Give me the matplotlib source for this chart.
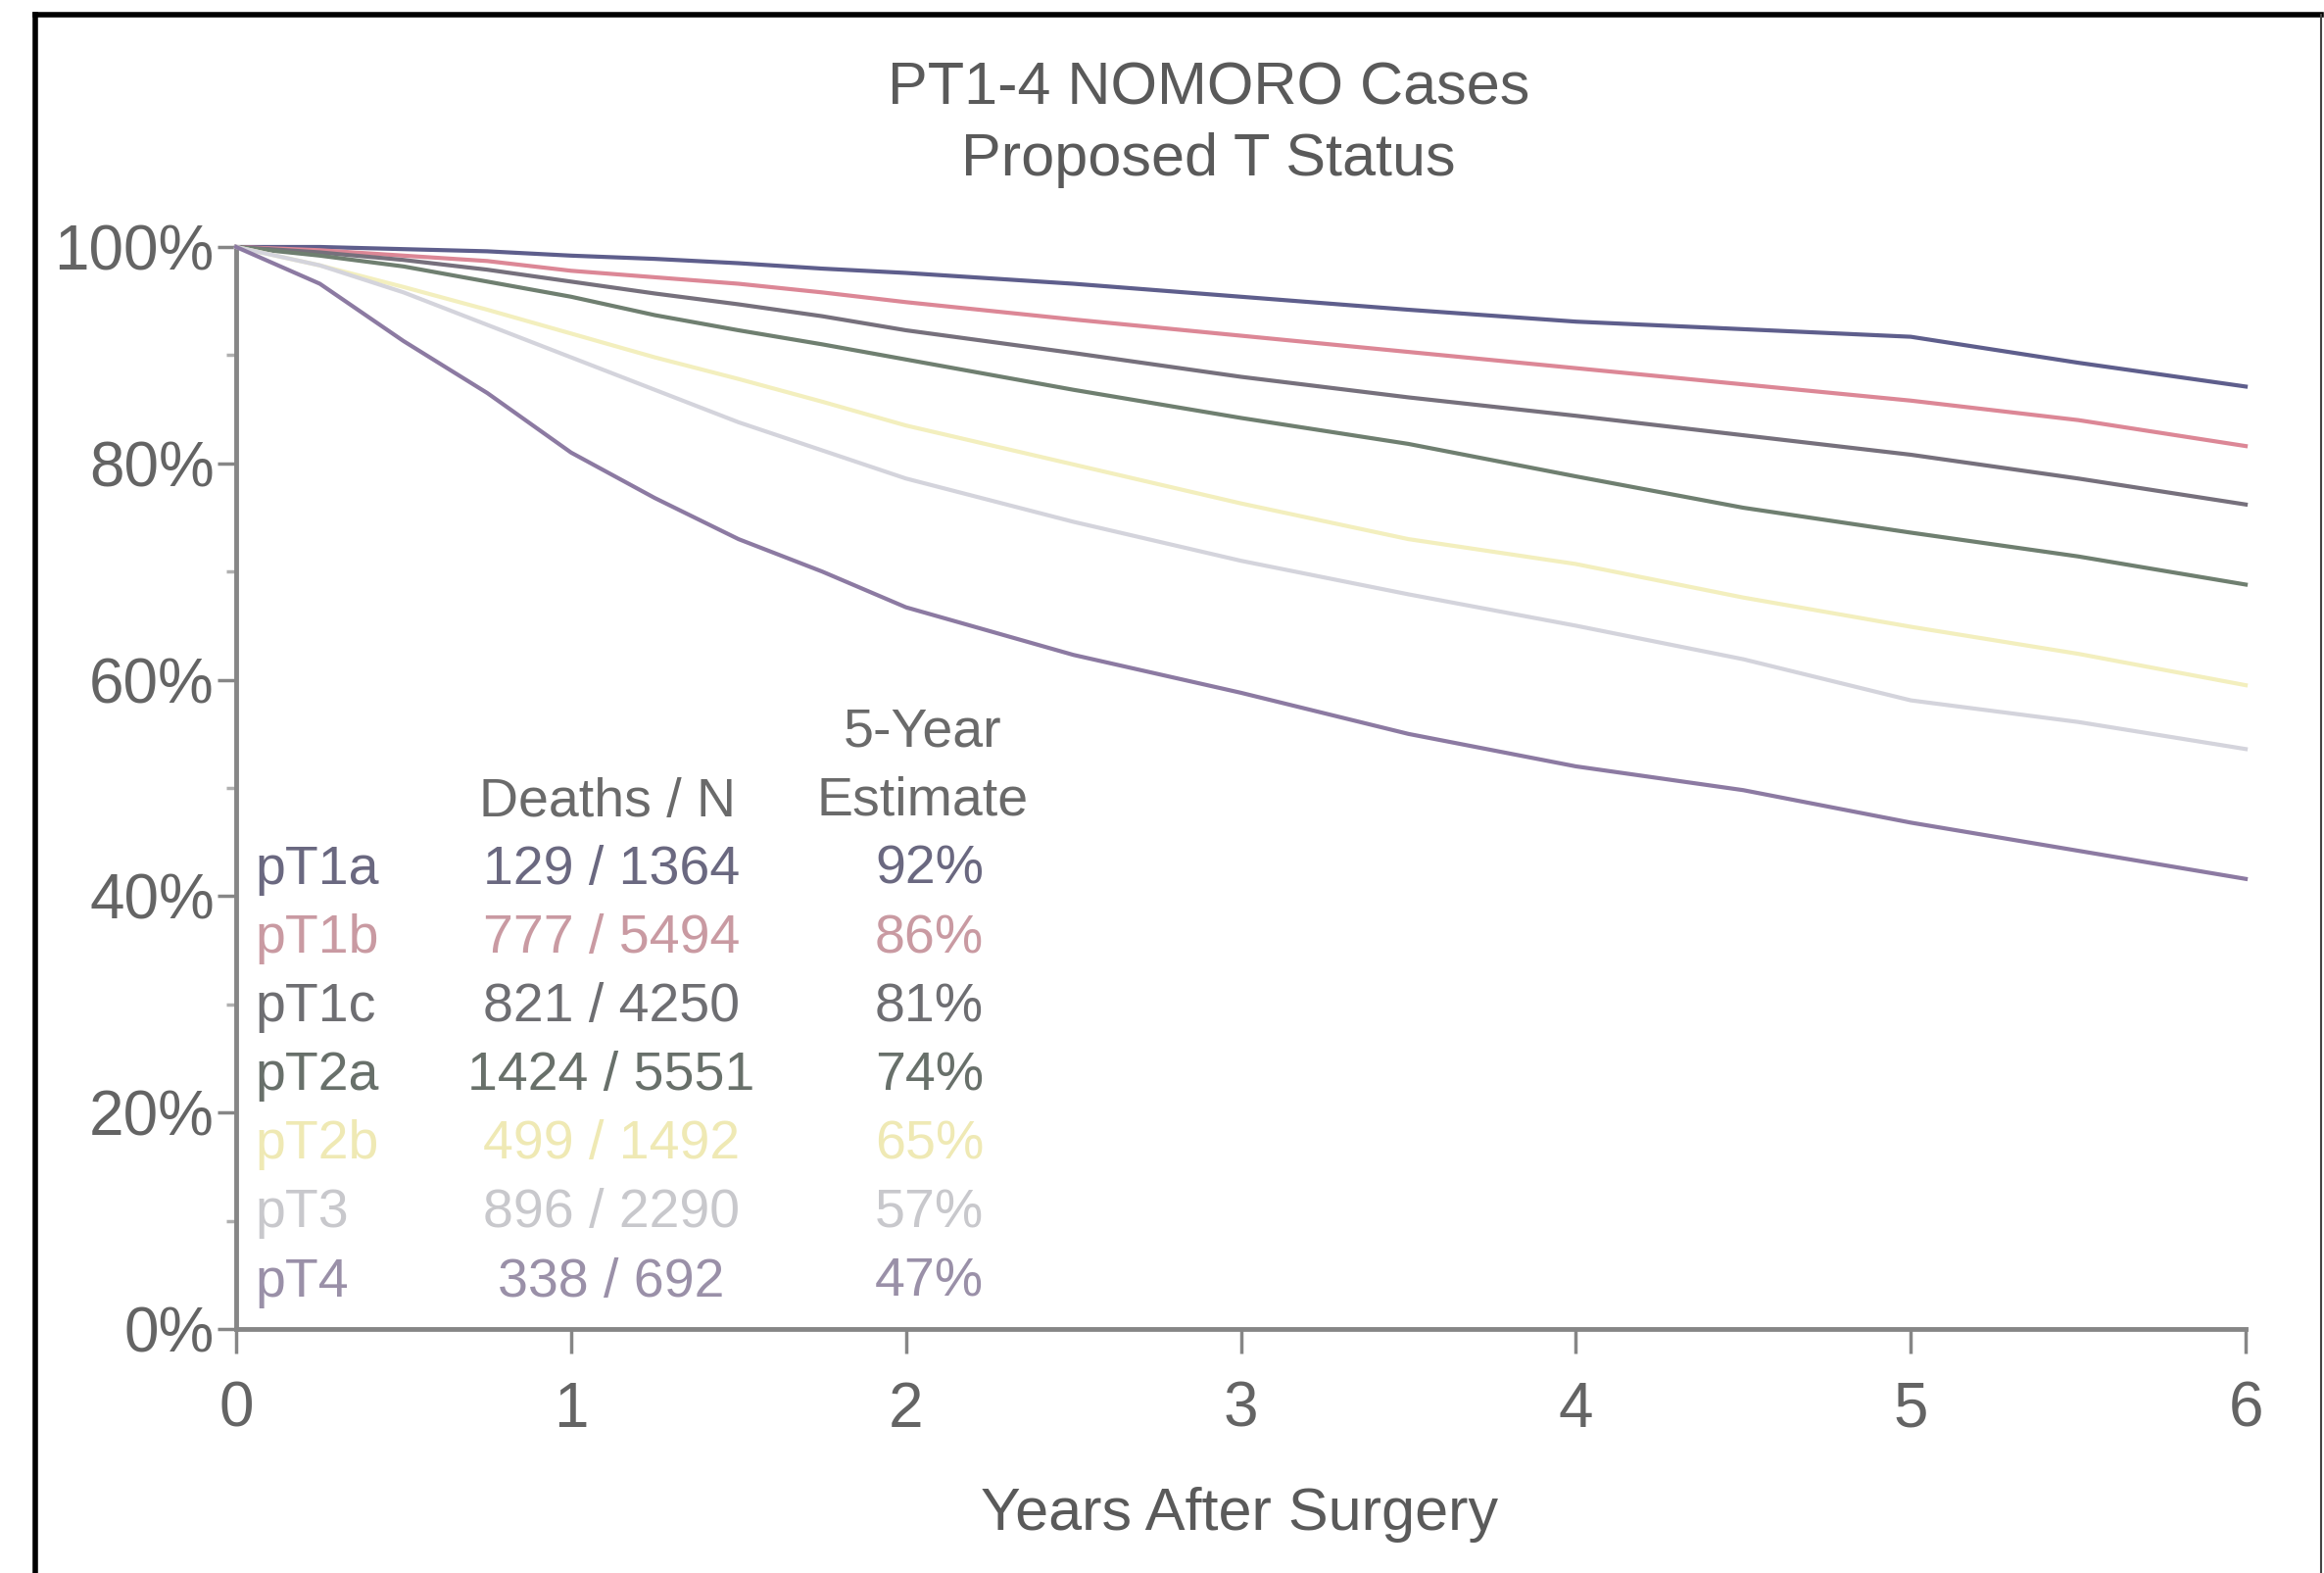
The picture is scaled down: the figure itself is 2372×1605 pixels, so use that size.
import matplotlib
matplotlib.use("Agg")

import matplotlib.pyplot as plt
from matplotlib.lines import Line2D
from matplotlib.ticker import MultipleLocator

# ==========================================================
# DATA
# ==========================================================

years = [0, 0.25, 0.5, 0.75, 1.0, 1.25, 1.5, 1.75, 2.0,
         2.5, 3.0, 3.5, 4.0, 4.5, 5.0, 5.5, 6.0]

surv_pT1a = [100, 100, 99.8, 99.6, 99.2, 98.9, 98.5, 98.0, 97.6,
             96.6, 95.4, 94.2, 93.1, 92.4, 91.7, 89.3, 87.1]
surv_pT1b = [100, 99.7, 99.2, 98.7, 97.8, 97.2, 96.6, 95.8, 94.9,
             93.3, 91.8, 90.3, 88.8, 87.3, 85.8, 84.0, 81.6]
surv_pT1c = [100, 99.5, 98.8, 97.9, 96.8, 95.7, 94.7, 93.6, 92.3,
             90.2, 88.0, 86.1, 84.4, 82.6, 80.8, 78.6, 76.2]
surv_pT2a = [100, 99.2, 98.2, 96.8, 95.4, 93.7, 92.3, 91.0, 89.6,
             86.8, 84.2, 81.8, 78.8, 75.9, 73.6, 71.4, 68.8]
surv_pT2b = [100, 98.3, 96.3, 94.2, 92.0, 89.8, 87.8, 85.7, 83.5,
             79.9, 76.3, 73.0, 70.7, 67.6, 64.9, 62.4, 59.5]
surv_pT3 = [100, 98.3, 95.8, 92.8, 89.8, 86.8, 83.8, 81.2, 78.6,
            74.6, 71.0, 67.9, 65.0, 61.9, 58.1, 56.1, 53.6]
surv_pT4 = [100, 96.6, 91.3, 86.5, 81.0, 76.8, 73.0, 70.0, 66.7,
            62.3, 58.8, 55.0, 52.0, 49.8, 46.8, 44.2, 41.6]

groups = ["pT1a", "pT1b", "pT1c", "pT2a", "pT2b", "pT3", "pT4"]
deaths = [129, 777, 821, 1424, 499, 896, 338]
totals = [1364, 5494, 4250, 5551, 1492, 2290, 692]
five_year = [92, 86, 81, 74, 65, 57, 47]

curves = [surv_pT1a, surv_pT1b, surv_pT1c, surv_pT2a,
          surv_pT2b, surv_pT3, surv_pT4]

line_colors = ["#5e5e8c", "#dc8796", "#76707c", "#6f7f70",
               "#f3efbe", "#d4d4dc", "#8c7aa2"]
text_colors = ["#6a6880", "#c99aa2", "#6e6e72", "#68706a",
               "#efe9b4", "#c8c8cc", "#9a90a8"]

# ==========================================================
# FIGURE
# ==========================================================

plt.rcParams["font.family"] = ["Liberation Sans", "DejaVu Sans"]

fig = plt.figure(
    figsize=(23.72, 16.05),
    dpi=100
)

ax = fig.add_axes([0.1016, 0.1551, 0.8647, 0.6879])

for surv, col in zip(curves, line_colors):

    ax.plot(
        years,
        surv,
        color=col,
        linewidth=3.0,
        clip_on=False,
        zorder=3
    )

# ==========================================================
# AXES STYLE
# ==========================================================

axis_grey = "#868686"

ax.set_xlim(0, 6)
ax.set_ylim(0, 100)

ax.spines["top"].set_visible(False)
ax.spines["right"].set_visible(False)

for side in ["left", "bottom"]:
    ax.spines[side].set_color(axis_grey)
    ax.spines[side].set_linewidth(3.5)

ax.set_xticks(range(0, 7))
ax.set_yticks(range(0, 101, 20))
ax.set_yticklabels([f"{v}%" for v in range(0, 101, 20)])
ax.yaxis.set_minor_locator(MultipleLocator(10))

ax.tick_params(
    axis="x",
    direction="out",
    length=18,
    width=2.5,
    color=axis_grey,
    labelsize=46,
    labelcolor="#646464",
    pad=20
)

ax.tick_params(
    axis="y",
    which="major",
    direction="out",
    length=14,
    width=2.5,
    color=axis_grey,
    labelsize=46,
    labelcolor="#646464",
    pad=2
)

ax.tick_params(
    axis="y",
    which="minor",
    direction="out",
    length=7,
    width=2.5,
    color="#b0b0b0"
)

# ==========================================================
# TITLES
# ==========================================================

fig.text(0.52, 0.943, "PT1-4 NOMORO Cases",
         ha="center", va="center", fontsize=44, color="#5a5a5a")

fig.text(0.52, 0.898, "Proposed T Status",
         ha="center", va="center", fontsize=44, color="#5a5a5a")

fig.text(0.5333, 0.0368, "Years After Surgery",
         ha="center", va="center", fontsize=44, color="#5a5a5a")

# ==========================================================
# IN-PLOT TABLE
# ==========================================================

head_col = "#6a6a6a"

ax.text(2.05, 55.1, "5-Year", ha="center", va="center",
        fontsize=40, color=head_col)
ax.text(2.05, 48.8, "Estimate", ha="center", va="center",
        fontsize=40, color=head_col)
ax.text(1.11, 48.6, "Deaths / N", ha="center", va="center",
        fontsize=40, color=head_col)

row_y = 42.4
row_step = 6.35

for i, name in enumerate(groups):

    y = row_y - i * row_step
    col = text_colors[i]

    ax.text(0.056, y, name, ha="left", va="center",
            fontsize=40, color=col)

    ax.text(1.12, y, f"{deaths[i]} / {totals[i]}", ha="center",
            va="center", fontsize=40, color=col)

    ax.text(2.07, y, f"{five_year[i]}%", ha="center", va="center",
            fontsize=40, color=col)

# ==========================================================
# SCAN FRAME
# ==========================================================

fig.add_artist(Line2D([0.0152, 0.9987], [0.9907, 0.9907],
                      color="black", linewidth=4, transform=fig.transFigure))
fig.add_artist(Line2D([0.0152, 0.0152], [0.0, 0.9907],
                      color="black", linewidth=4, transform=fig.transFigure))
fig.add_artist(Line2D([0.9987, 0.9987], [0.0, 0.9907],
                      color="#444444", linewidth=1.5, transform=fig.transFigure))

fig.savefig("out.png", dpi=100, facecolor="white")
